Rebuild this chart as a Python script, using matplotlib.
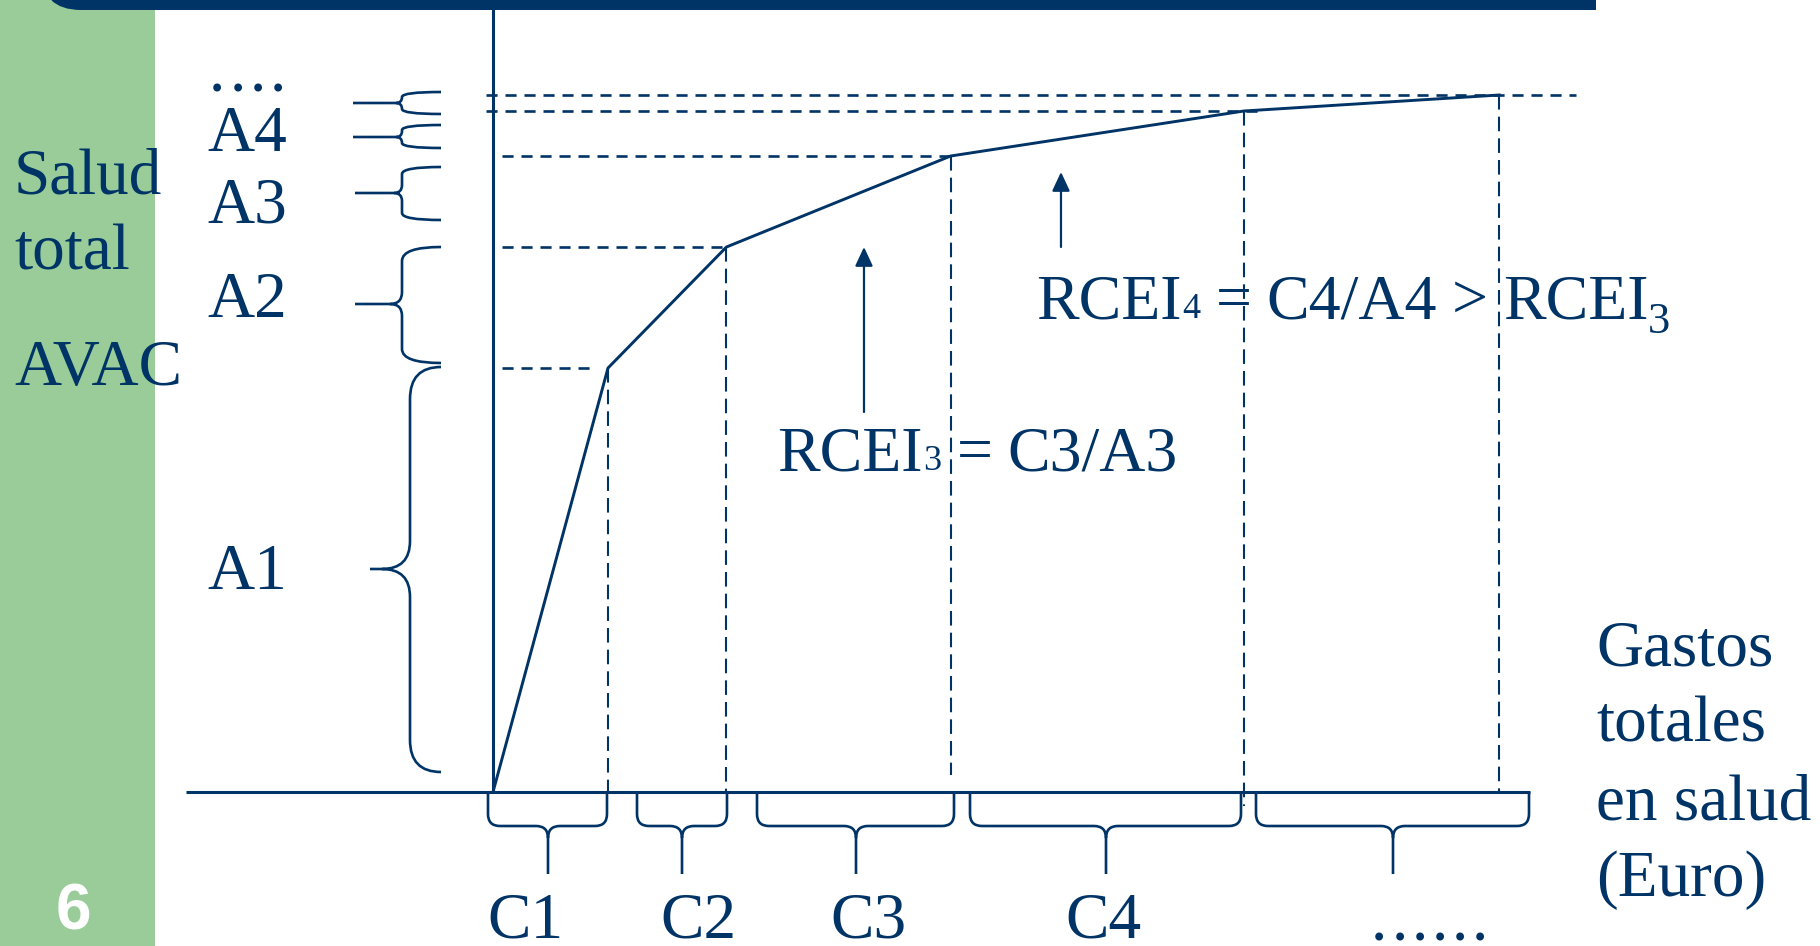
import matplotlib
matplotlib.use("Agg")
import matplotlib.pyplot as plt
import numpy as np
from matplotlib.path import Path
from matplotlib.patches import PathPatch, Rectangle, FancyBboxPatch

NAVY = "#003366"
GREEN = "#99CC99"
SERIF = "Liberation Serif"

# --------- DATOS ----------
# tramos de gasto (C) y de salud ganada (A), unidades arbitrarias
tramos_gasto = ["C1", "C2", "C3", "C4", "......"]
gasto_tramo = [1.0, 1.03, 1.95, 2.55, 2.22]
tramos_salud = ["A1", "A2", "A3", "A4", "...."]
salud_tramo = [4.24, 1.21, 0.91, 0.45, 0.16]

x_cum = np.concatenate([[0], np.cumsum(gasto_tramo)])
y_cum = np.concatenate([[0], np.cumsum(salud_tramo)])

# --------- FIGURA ----------
W, H = 1820, 946
fig = plt.figure(figsize=(W / 100, H / 100), dpi=100)

# capa de fondo en pixeles
bg = fig.add_axes([0, 0, 1, 1])
bg.set_xlim(0, W)
bg.set_ylim(H, 0)
bg.axis("off")

# ejes de datos (origen en el pixel 493, 792)
X0, Y0, UX, UY = 493, 792, 115, 100
ax = fig.add_axes([0, 0, 1, 1])
ax.set_xlim(-X0 / UX, (W - X0) / UX)
ax.set_ylim((Y0 - H) / UY, Y0 / UY)
ax.axis("off")
ax.patch.set_alpha(0)

# barra verde lateral y barra superior
bg.add_patch(Rectangle((0, 0), 155, H, color=GREEN, lw=0, zorder=0))
bg.add_patch(FancyBboxPatch((41, -100), 300, 110, boxstyle="round,pad=0,rounding_size=40",
                            color=NAVY, lw=0, zorder=1))
bg.add_patch(Rectangle((150, -5), 1596 - 150, 15, color=NAVY, lw=0, zorder=1))
bg.text(73, 912, "6", color="white", fontsize=46, fontweight="bold",
        family="Liberation Sans", ha="center", va="center")

# --------- EJES Y CURVA ----------
ax.plot([-2.67, 9.02], [0, 0], color=NAVY, lw=2.2, solid_capstyle="butt")
ax.plot([0, 0], [0, 7.92], color=NAVY, lw=2.2, solid_capstyle="butt")
ax.plot(x_cum, y_cum, color=NAVY, lw=2.1, zorder=5)

# lineas de referencia discontinuas
h_inicio = [0.08, 0.08, 0.08, -0.06, -0.06]
h_extra = [-0.16, 0.0, 0.0, 0.12, 0.67]
v_fin = [0.0, 0.0, 0.17, -0.14, 0.0]
for i in range(1, len(x_cum)):
    ax.plot([h_inicio[i - 1], x_cum[i] + h_extra[i - 1]], [y_cum[i], y_cum[i]],
            color=NAVY, lw=1.9, ls=(0, (4.2, 3.0)))
    ax.plot([x_cum[i], x_cum[i]], [y_cum[i], v_fin[i - 1]],
            color=NAVY, lw=1.5, ls=(0, (7.0, 3.4)))

# flechas
flechas = [((3.226, 3.80), (3.226, 5.45)), ((4.939, 5.45), (4.939, 6.20))]
for cola, punta in flechas:
    ax.annotate("", xy=punta, xytext=cola,
                arrowprops=dict(arrowstyle="-|>,head_length=0.58,head_width=0.27",
                                mutation_scale=20, color=NAVY, lw=1.6,
                                shrinkA=0, shrinkB=0))


# --------- LLAVES ----------
def llave_izq(x_tip, x_spine, x_end, y_top, y_bot, y_tip, r, r2):
    v = [(x_end, y_top), (x_spine, y_top), (x_spine, y_top + r), (x_spine, y_tip - r2),
         (x_spine, y_tip), (x_spine - r2, y_tip), (x_tip, y_tip),
         (x_end, y_bot), (x_spine, y_bot), (x_spine, y_bot - r), (x_spine, y_tip + r2),
         (x_spine, y_tip), (x_spine - r2, y_tip)]
    c = [Path.MOVETO, Path.CURVE3, Path.CURVE3, Path.LINETO, Path.CURVE3, Path.CURVE3, Path.LINETO,
         Path.MOVETO, Path.CURVE3, Path.CURVE3, Path.LINETO, Path.CURVE3, Path.CURVE3]
    bg.add_patch(PathPatch(Path(v, c), fill=False, ec=NAVY, lw=1.9))


def llave_abajo(x_left, x_right, x_tip, y_top=792, y_h=826, y_tip=874, r=12, r2=12):
    v = [(x_left, y_top), (x_left, y_h - r), (x_left, y_h), (x_left + r, y_h),
         (x_tip - r2, y_h), (x_tip, y_h), (x_tip, y_h + r2), (x_tip, y_tip),
         (x_right, y_top), (x_right, y_h - r), (x_right, y_h), (x_right - r, y_h),
         (x_tip + r2, y_h), (x_tip, y_h), (x_tip, y_h + r2)]
    c = [Path.MOVETO, Path.LINETO, Path.CURVE3, Path.CURVE3, Path.LINETO, Path.CURVE3, Path.CURVE3,
         Path.LINETO,
         Path.MOVETO, Path.LINETO, Path.CURVE3, Path.CURVE3, Path.LINETO, Path.CURVE3, Path.CURVE3]
    bg.add_patch(PathPatch(Path(v, c), fill=False, ec=NAVY, lw=1.9))


# llaves del eje vertical (pixeles)
llaves_salud = [(353, 402, 92, 114, 103, 5, 6), (353, 402, 125, 148, 137, 5, 6),
                (355, 402, 167, 220, 193, 7, 8), (355, 402, 247, 363, 304, 14, 12),
                (370, 410, 367, 772, 569, 32, 28)]
for x_tip, x_spine, yt, yb, ytip, r, r2 in llaves_salud:
    llave_izq(x_tip, x_spine, 441, yt, yb, ytip, r, r2)

# llaves del eje horizontal (pixeles)
llaves_gasto = [(488, 607, 548), (637, 727, 682), (757, 954, 856), (970, 1241, 1106), (1256, 1529, 1393)]
for xl, xr, xt in llaves_gasto:
    llave_abajo(xl, xr, xt)


# --------- TEXTOS ----------
renderer = fig.canvas.get_renderer()


def texto_cadena(x, y, piezas):
    for s, size, dy, gap in piezas:
        t = bg.text(x + gap, y + dy, s, fontsize=size, family=SERIF, color=NAVY,
                    ha="left", va="baseline")
        bb = t.get_window_extent(renderer)
        x = bg.transData.inverted().transform((bb.x1, bb.y0))[0]


def txt(x, y, s, ha="left", size=47):
    bg.text(x, y, s, fontsize=size, family=SERIF, color=NAVY, ha=ha, va="baseline")


txt(14, 193, "Salud")
txt(14, 269, "total")
txt(14, 385, "AVAC")

y_salud = [589, 317, 222, 151]
for lab, yy in zip(tramos_salud[:4], y_salud):
    txt(207, yy, lab)
texto_cadena(209, 92, [(".", 47, 0, 0)] + [(".", 47, 0, 4)] * 3)

x_gasto = [525, 698, 868, 1103]
for lab, xx in zip(tramos_gasto[:4], x_gasto):
    txt(xx, 937, lab, ha="center")
texto_cadena(1371, 940, [(".", 47, 0, 0)] + [(".", 47, 0, 4)] * 5)

for s, yy in zip(["Gastos", "totales", "en salud", "(Euro)"], [665, 741, 819, 896]):
    txt(1596, yy, s)

texto_cadena(777, 470, [("RCEI", 46, 0, 0), ("3", 26, 0, 1), ("=", 46, 0, 15), ("C3/A3", 46, 0, 15)])
texto_cadena(1036, 318, [("RCEI", 46, 0, 0), ("4", 26, 0, 1), ("=", 46, 0, 15), ("C4/A4", 46, 0, 15),
                         (">", 46, 0, 15), ("RCEI", 46, 0, 15), ("3", 32, 15, -1)])

fig.savefig("out.png", dpi=100)
